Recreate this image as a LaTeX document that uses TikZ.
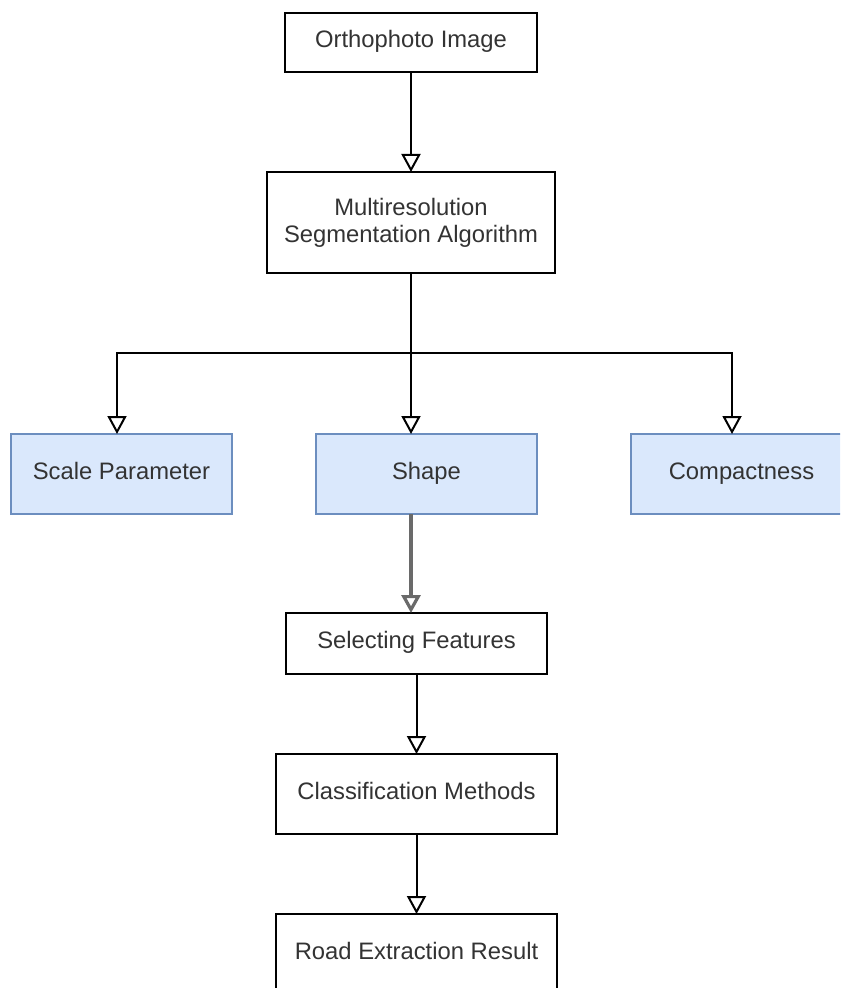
\documentclass[tikz,border=0pt]{standalone}
\usepackage{fontspec}
\setmainfont{Liberation Sans}
\usetikzlibrary{arrows.meta}
\definecolor{boxblue}{HTML}{DAE8FC}
\definecolor{boxedge}{HTML}{6C8EBF}
\definecolor{txtgray}{HTML}{333333}
\definecolor{linegray}{HTML}{6A6A6A}

\begin{document}
\begin{tikzpicture}[x=0.5pt,y=-0.5pt,
  stage/.style={draw=black, line width=1pt, fill=white, text=txtgray, inner sep=0pt, outer sep=0pt, align=center, font=\fontsize{11.9}{13.5}\selectfont},
  oneline/.style={text height=0.72em, text depth=0.21em},
  param/.style={stage, oneline, draw=boxedge, fill=boxblue, minimum width=110.5pt, minimum height=40pt},
  flow/.style={line width=1pt, -{Triangle[open, width=9.5pt, length=9pt]}}]

\useasboundingbox (0,0) rectangle (840,988);
\clip (0,0) rectangle (840,988);

\node [stage, oneline, minimum width=126pt, minimum height=29.5pt] (ortho) at (411,42.5) {Orthophoto Image};
\node [stage, minimum width=144pt, minimum height=50.5pt] (multi) at (411,222.5) {Multiresolution\\Segmentation Algorithm};

\node [param] (scale) at (121.5,474) {Scale Parameter};
\node [param] (shape) at (426.5,474) {Shape};
\node [param] (compact) at (741.5,474) {Compactness};

\node [stage, oneline, minimum width=130.5pt, minimum height=30.5pt] (select) at (416.5,643.5) {Selecting Features};
\node [stage, oneline, minimum width=140.5pt, minimum height=40pt] (classif) at (416.5,794) {Classification Methods};
\node [stage, oneline, minimum width=140.5pt, minimum height=40pt] (road) at (416.5,954) {Road Extraction Result};

\coordinate (split) at (411,353);

\draw [flow] (ortho) -- (multi);
\draw [line width=1pt] (multi.south -| split) -- (split);
\draw [flow] (split) -| ([xshift=-2.25pt]scale.north);
\draw [flow] (split) -- (split |- shape.north);
\draw [flow] (split) -| ([xshift=-4.75pt]compact.north);
\draw [flow, draw=linegray, line width=1.6pt] (shape.south -| split) -- (split |- select.north);
\draw [flow] (select) -- (classif);
\draw [flow] (classif) -- (road);

\end{tikzpicture}
\end{document}
